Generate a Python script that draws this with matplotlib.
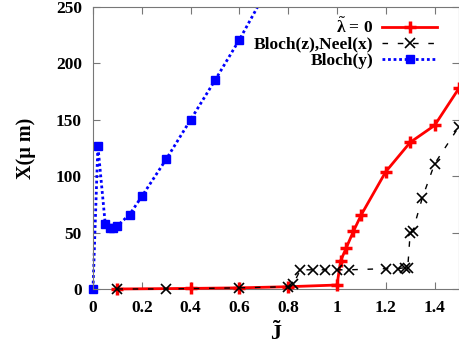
import matplotlib.pyplot as plt
from matplotlib.patches import Rectangle

# red: lambda~ = 0
red_x = [0.1, 0.4, 0.6, 0.8, 1.0, 1.015, 1.037, 1.067, 1.1, 1.2, 1.3, 1.4, 1.5]
red_y = [0, 0.5, 1, 2, 3.5, 25, 36, 51, 66, 104, 130, 145, 178]

# black: Bloch(z),Neel(x)
blk_x = [0.1, 0.3, 0.6, 0.8, 0.82, 0.85, 0.9, 0.95, 1.0, 1.05,
         1.2, 1.25, 1.28, 1.29, 1.3, 1.31, 1.35, 1.4, 1.5]
blk_y = [0, 0, 1, 2, 4, 17, 17, 17, 17, 17,
         18, 18, 19, 19, 50, 51, 81, 111, 144]

# blue: Bloch(y)
blu_x = [0, 0.02, 0.05, 0.07, 0.08, 0.1, 0.15, 0.2, 0.3, 0.4, 0.5, 0.6, 0.7]
blu_y = [0, 127, 58, 54, 54, 56, 66, 82, 115, 150, 185, 221, 260]

xticks = [0, 0.2, 0.4, 0.6, 0.8, 1, 1.2, 1.4]
xticklabels = ['0', '0.2', '0.4', '0.6', '0.8', '1', '1.2', '1.4']
yticks = [0, 50, 100, 150, 200, 250]

plt.rcParams['font.family'] = 'Liberation Serif'
plt.rcParams['font.weight'] = 'bold'
plt.rcParams['mathtext.fontset'] = 'custom'
plt.rcParams['mathtext.rm'] = 'Liberation Serif:bold'
plt.rcParams['mathtext.bf'] = 'Liberation Serif:bold'
plt.rcParams['mathtext.it'] = 'Liberation Serif:bold'

fig = plt.figure(figsize=(4.59, 3.49), dpi=100)
ax = fig.add_axes([0.2026, 0.172, 0.7974, 0.808])

ax.plot(red_x, red_y, color='red', lw=2, marker='+', ms=9, mew=2.5,
        label=r'$\tilde{\mathbf{\lambda}}$ = 0', clip_on=False, zorder=3)
ax.plot(blk_x, blk_y, color='black', lw=1, ls=(0, (4, 7)), marker='x', ms=7,
        mew=1.2, label='Bloch(z),Neel(x)', clip_on=False, zorder=4)
blue, = ax.plot(blu_x, blu_y, color='blue', lw=2, ls=(0, (1, 1)), marker='s',
                ms=6, label='Bloch(y)', zorder=2)
blue.set_clip_path(Rectangle((-0.05, -0.05), 1.1, 1.05, transform=ax.transAxes))

ax.set_xlim(0, 1.5)
ax.set_ylim(0, 250)
ax.set_xticks(xticks)
ax.set_xticklabels(xticklabels)
ax.set_yticks(yticks)
ax.tick_params(direction='in', top=True, right=True, labelsize=12.5,
               length=5, color='#777777', pad=8)
for s in ax.spines.values():
    s.set_color('#777777')

ax.set_xlabel(r'$\tilde{\mathbf{J}}$', fontsize=16, labelpad=4)
ax.set_ylabel('X(\u03bc m)', fontsize=14.5, fontweight='bold', labelpad=14)

ax.legend(loc='upper right', frameon=False, markerfirst=False, fontsize=12.5,
          handlelength=3.2, labelspacing=0.0, borderaxespad=0.0,
          handletextpad=0.5, bbox_to_anchor=(0.96, 0.99))

plt.savefig('out.png', dpi=100)
